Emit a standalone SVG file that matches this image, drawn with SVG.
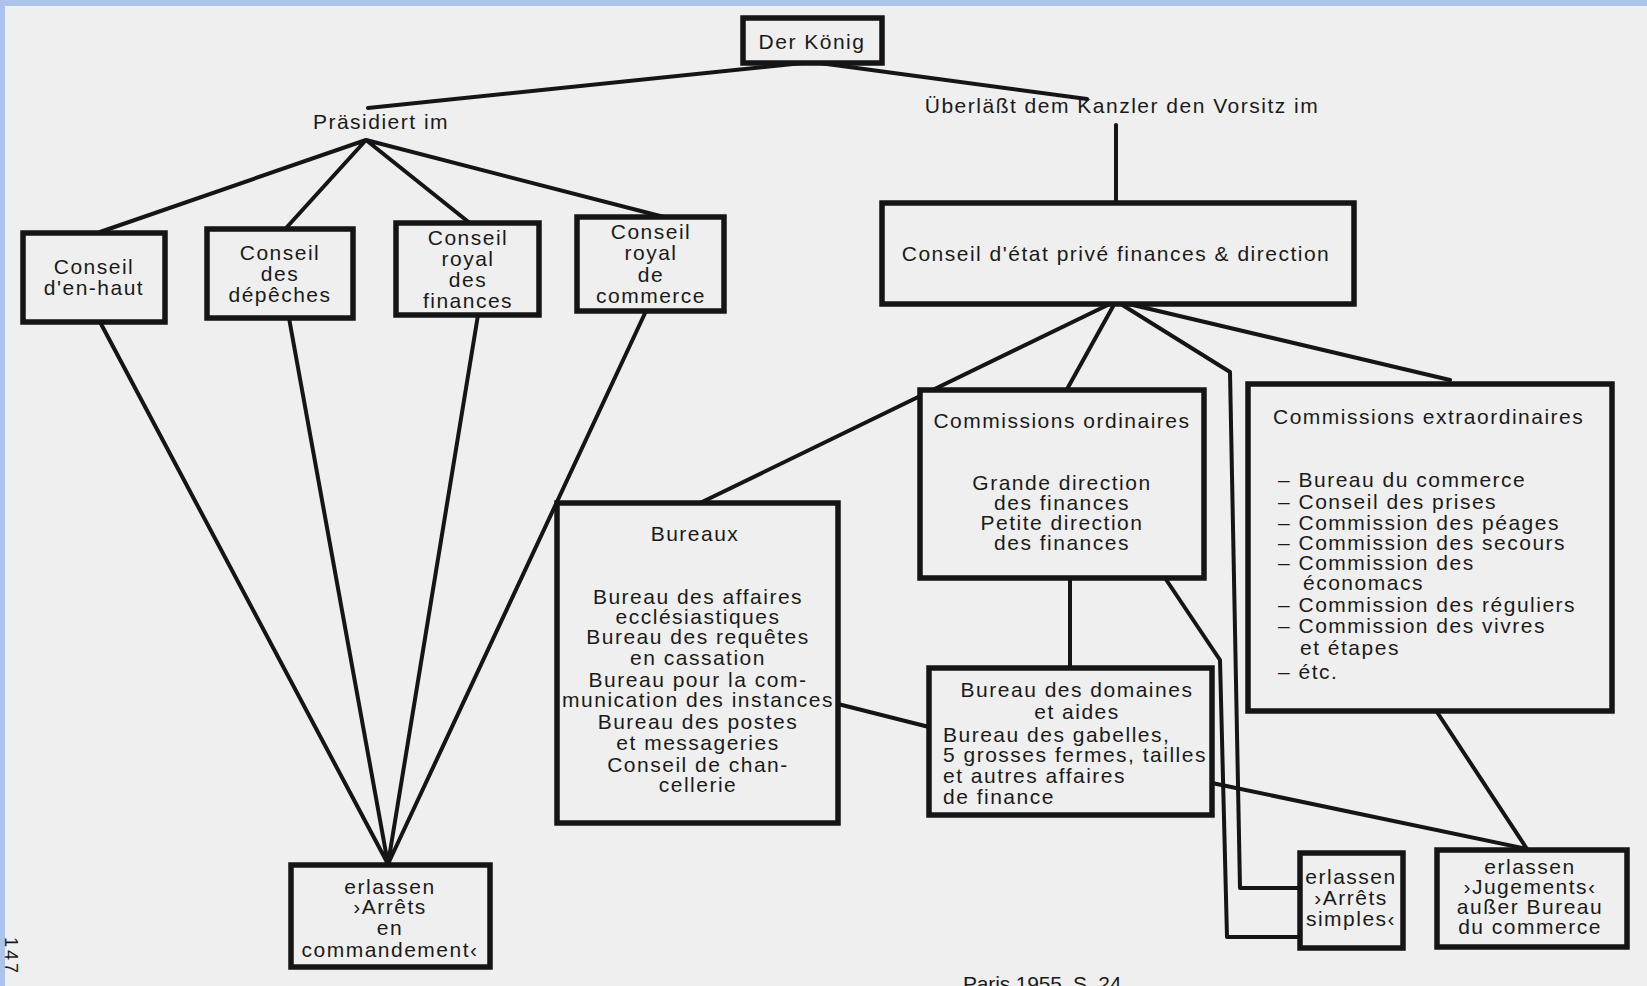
<svg xmlns="http://www.w3.org/2000/svg" width="1647" height="986" viewBox="0 0 1647 986">
<style>
.bx{fill:#efefef;stroke:#151515;stroke-width:5.5}
.ln{fill:none;stroke:#151515;stroke-width:4;stroke-linejoin:round;stroke-linecap:round}
text{font-family:"Liberation Sans",Arial,sans-serif;font-size:21px;letter-spacing:1.5px;fill:#1a1a1a}
.m{text-anchor:middle}
</style>
<rect width="1647" height="986" fill="#efefef"/>
<rect width="1647" height="6" fill="#aec3ea"/>
<rect width="5" height="986" fill="#aec3ea"/>
<text transform="translate(5,937) rotate(90)" style="font-size:18px;letter-spacing:3px">147</text>
<text x="963" y="991" textLength="160">Paris 1955, S. 24</text>

<g id="connectors">
<path class="ln" d="M368,108 L812,62 L1087,99"/>
<path class="ln" d="M100,232 L366,140 L287,227 M366,140 L471,224 M366,140 L664,217"/>
<path class="ln" d="M100,322 L388,864 M289,318 L388,864 M478,315 L388,864 M646,311 L388,864"/>
<path class="ln" d="M1116,125 V205"/>
<path class="ln" d="M1116,301 L700,503 M1116,301 L1066,391 M1116,301 L1450,380"/>
<path class="ln" d="M1116,301 L1230,372 L1240,888 L1300,888"/>
<path class="ln" d="M1165,578 L1220,660 L1227,937 L1300,937"/>
<path class="ln" d="M1070,578 V668"/>
<path class="ln" d="M838,704 L929,727"/>
<path class="ln" d="M1212,783 L1527,849 M1437,712 L1527,849"/>
</g>

<g id="koenig">
<rect class="bx" x="743" y="18" width="139" height="45"/>
<text class="m" x="812" y="49">Der König</text>
</g>
<g id="praesidiert">
<text class="m" x="381" y="129">Präsidiert im</text>
</g>
<g id="ueberlaesst">
<text class="m" x="1122" y="113">Überläßt dem Kanzler den Vorsitz im</text>
</g>

<g id="conseil-en-haut">
<rect class="bx" x="23" y="233" width="142" height="89"/>
<text class="m" x="94" y="274">Conseil</text>
<text class="m" x="94" y="295">d'en-haut</text>
</g>
<g id="conseil-depeches">
<rect class="bx" x="207" y="229" width="146" height="89"/>
<text class="m" x="280" y="260">Conseil</text>
<text class="m" x="280" y="281">des</text>
<text class="m" x="280" y="302">dépêches</text>
</g>
<g id="conseil-finances">
<rect class="bx" x="396" y="223" width="143" height="92"/>
<text class="m" x="468" y="245">Conseil</text>
<text class="m" x="468" y="266">royal</text>
<text class="m" x="468" y="287">des</text>
<text class="m" x="468" y="308">finances</text>
</g>
<g id="conseil-commerce">
<rect class="bx" x="577" y="217" width="147" height="94"/>
<text class="m" x="651" y="239">Conseil</text>
<text class="m" x="651" y="260">royal</text>
<text class="m" x="651" y="282">de</text>
<text class="m" x="651" y="303">commerce</text>
</g>

<g id="conseil-etat">
<rect class="bx" x="882" y="203" width="472" height="101"/>
<text class="m" x="1116" y="261">Conseil d'état privé finances &amp; direction</text>
</g>

<g id="commandement">
<rect class="bx" x="291" y="865" width="199" height="102"/>
<text class="m" x="390" y="894">erlassen</text>
<text class="m" x="390" y="914">›Arrêts</text>
<text class="m" x="390" y="935">en</text>
<text class="m" x="390" y="957">commandement‹</text>
</g>

<g id="bureaux">
<rect class="bx" x="557" y="503" width="281" height="320"/>
<text class="m" x="695" y="541">Bureaux</text>
<text class="m" x="698" y="604">Bureau des affaires</text>
<text class="m" x="698" y="624">ecclésiastiques</text>
<text class="m" x="698" y="644">Bureau des requêtes</text>
<text class="m" x="698" y="665">en cassation</text>
<text class="m" x="698" y="687">Bureau pour la com-</text>
<text class="m" x="698" y="707">munication des instances</text>
<text class="m" x="698" y="729">Bureau des postes</text>
<text class="m" x="698" y="750">et messageries</text>
<text class="m" x="698" y="772">Conseil de chan-</text>
<text class="m" x="698" y="792">cellerie</text>
</g>

<g id="commissions-ordinaires">
<rect class="bx" x="920" y="390" width="284" height="188"/>
<text class="m" x="1062" y="428">Commissions ordinaires</text>
<text class="m" x="1062" y="490">Grande direction</text>
<text class="m" x="1062" y="510">des finances</text>
<text class="m" x="1062" y="530">Petite direction</text>
<text class="m" x="1062" y="550">des finances</text>
</g>

<g id="domaines">
<rect class="bx" x="929" y="668" width="283" height="147"/>
<text class="m" x="1077" y="697">Bureau des domaines</text>
<text class="m" x="1077" y="719">et aides</text>
<text x="943" y="742">Bureau des gabelles,</text>
<text x="943" y="762">5 grosses fermes, tailles</text>
<text x="943" y="783">et autres affaires</text>
<text x="943" y="804">de finance</text>
</g>

<g id="commissions-extraordinaires">
<rect class="bx" x="1248" y="384" width="364" height="327"/>
<text x="1273" y="424">Commissions extraordinaires</text>
<text x="1278" y="487">– Bureau du commerce</text>
<text x="1278" y="509">– Conseil des prises</text>
<text x="1278" y="530">– Commission des péages</text>
<text x="1278" y="550">– Commission des secours</text>
<text x="1278" y="570">– Commission des</text>
<text x="1303" y="590">économacs</text>
<text x="1278" y="612">– Commission des réguliers</text>
<text x="1278" y="633">– Commission des vivres</text>
<text x="1300" y="655">et étapes</text>
<text x="1278" y="679">– étc.</text>
</g>

<g id="arrets-simples">
<rect class="bx" x="1300" y="853" width="103" height="95"/>
<text class="m" x="1351" y="884">erlassen</text>
<text class="m" x="1351" y="905">›Arrêts</text>
<text class="m" x="1351" y="926">simples‹</text>
</g>

<g id="jugements">
<rect class="bx" x="1437" y="850" width="190" height="97"/>
<text class="m" x="1530" y="874">erlassen</text>
<text class="m" x="1530" y="894">›Jugements‹</text>
<text class="m" x="1530" y="914">außer Bureau</text>
<text class="m" x="1530" y="934">du commerce</text>
</g>
</svg>
